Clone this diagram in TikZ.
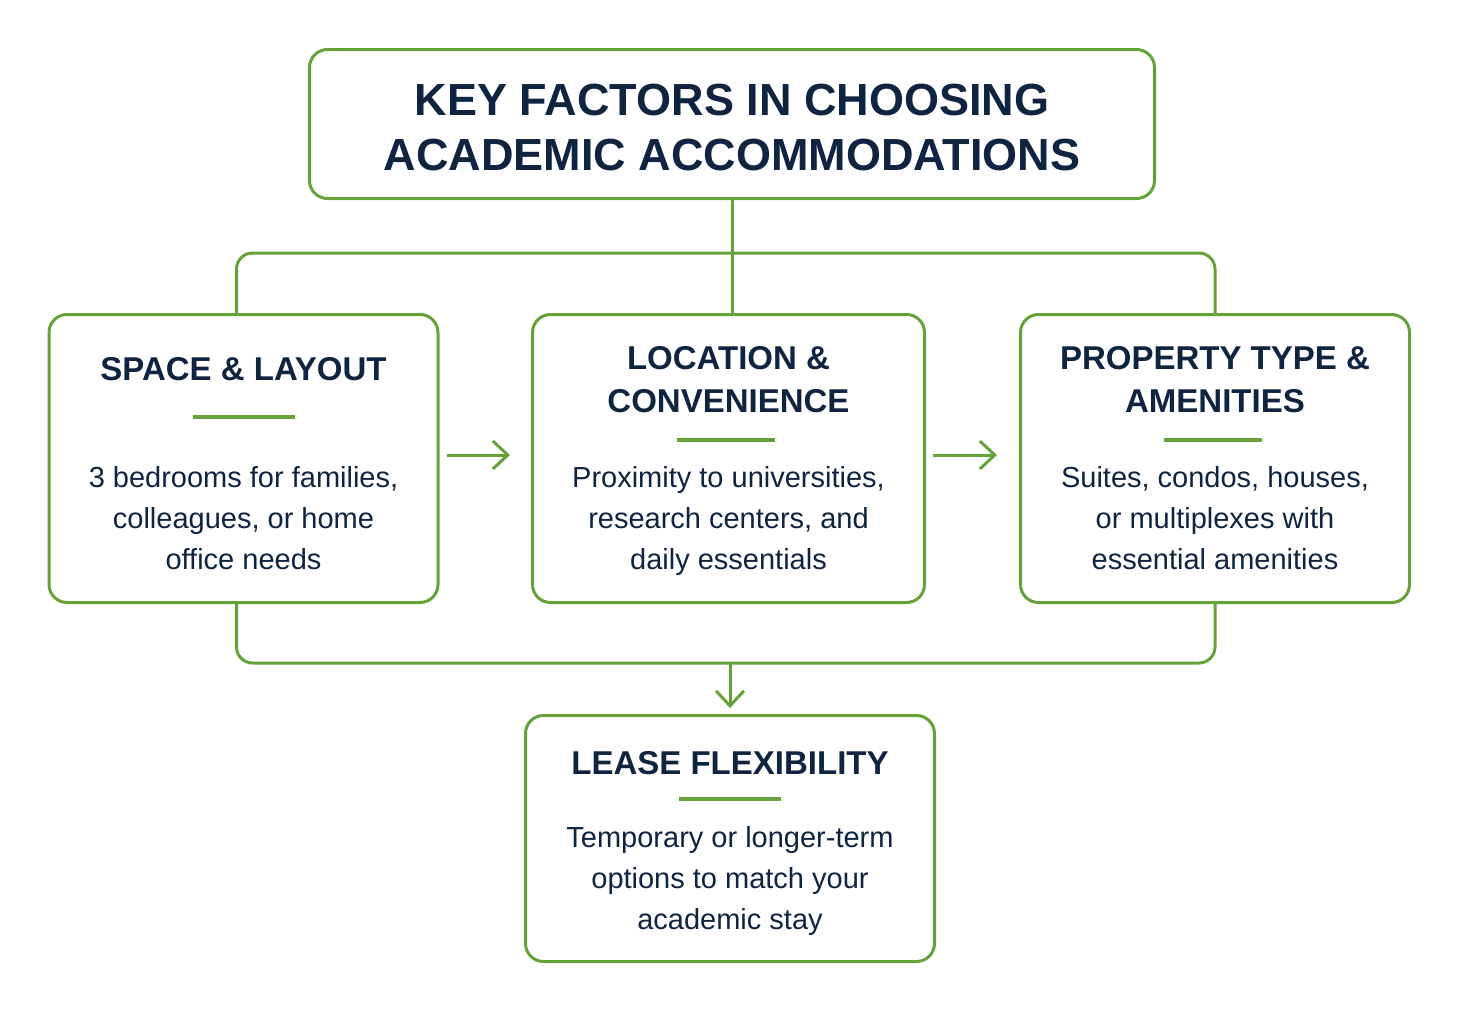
\documentclass[tikz,border=0pt]{standalone}
\usepackage{fontspec}
\setmainfont{Liberation Sans}
\usepackage{xcolor}
\usetikzlibrary{arrows.meta}
\definecolor{leaf}{HTML}{65A33A}
\definecolor{ink}{HTML}{0F2440}

\begin{document}
\begin{tikzpicture}[x=1pt,y=-1pt,->,>={Straight Barb[length=15pt,width=28pt]},line width=3pt,color=leaf,
    box/.style={draw=leaf,line width=3pt,rounded corners=18pt,minimum width=389pt,minimum height=288pt},
    head/.style={text=ink,align=center,font=\fontsize{33}{43}\selectfont\bfseries},
    body/.style={text=ink,align=center,font=\fontsize{29}{41}\selectfont},
    rule/.style={-,line width=3.5pt}]
            \useasboundingbox (0,0) rectangle (1460,1012);

            \node[box,minimum width=845pt,minimum height=149pt] (title) at (732,124) {};
            \node[text=ink,align=center,font=\fontsize{45}{55}\selectfont\bfseries] (titletext) at (732,128) {KEY FACTORS IN CHOOSING\\ACADEMIC ACCOMMODATIONS};

            \node[box,minimum width=392pt] (loc) [below of = title, node distance=334.5pt, xshift=-3.5pt]{};
            \node[box] (space) [left of = loc, node distance=485pt]{};
            \node[box] (prop) [right of = loc, node distance=486.5pt]{};
            \node[box,minimum width=409pt,minimum height=246pt] (lease) [below of = loc, node distance=380pt, xshift=1.5pt]{};

            % headings
            \node[head] (spacehead) at ([yshift=-56pt]space.north) {SPACE \& LAYOUT};
            \node[head] (lochead) at ([yshift=-66.5pt]loc.north) {LOCATION \&\\CONVENIENCE};
            \node[head] (prophead) at ([yshift=-66.5pt]prop.north) {PROPERTY TYPE \&\\AMENITIES};
            \node[head] (leasehead) at ([yshift=-49pt]lease.north) {LEASE FLEXIBILITY};

            % short rules
            \draw[rule] ([xshift=-51pt,yshift=-104pt]space.north) -- ([xshift=51pt,yshift=-104pt]space.north);
            \draw[rule] ([xshift=-52pt,yshift=-127pt]loc.north) -- ([xshift=46pt,yshift=-127pt]loc.north);
            \draw[rule] ([xshift=-51pt,yshift=-127pt]prop.north) -- ([xshift=47pt,yshift=-127pt]prop.north);
            \draw[rule] ([xshift=-51pt,yshift=-85pt]lease.north) -- ([xshift=51pt,yshift=-85pt]lease.north);

            % texts
            \node[body] (spacetext) at ([yshift=-207pt]space.north) {\strut 3 bedrooms for families,\\colleagues, or home\\office needs\strut};
            \node[body] (loctext) at ([yshift=-207pt]loc.north) {\strut Proximity to universities,\\research centers, and\\daily essentials\strut};
            \node[body] (proptext) at ([yshift=-207pt]prop.north) {\strut Suites, condos, houses,\\or multiplexes with\\essential amenities\strut};
            \node[body] (leasetext) at ([yshift=-166pt]lease.north) {\strut Temporary or longer-term\\options to match your\\academic stay\strut};

            \coordinate (topbus) at (732,253);
            \coordinate (botbus) at (730,663);

            \draw[-] (title.south) -- (topbus) -- (topbus |- loc.north);
            \draw[-,rounded corners=16pt] ([xshift=-7pt]space.north) |- (topbus) -| (prop.north);
            \draw[-,rounded corners=16pt] ([xshift=-7pt]space.south) |- (botbus) -| (prop.south);
            \draw[shorten >=6pt] (botbus) -- (botbus |- lease.north);
            \draw[shorten <=7pt,shorten >=21pt] ([yshift=3.5pt]space.east) -- ([yshift=3.5pt]loc.west);
            \draw[shorten <=7pt,shorten >=22pt] ([yshift=3.5pt]loc.east) -- ([yshift=3.5pt]prop.west);
        \end{tikzpicture}
\end{document}
